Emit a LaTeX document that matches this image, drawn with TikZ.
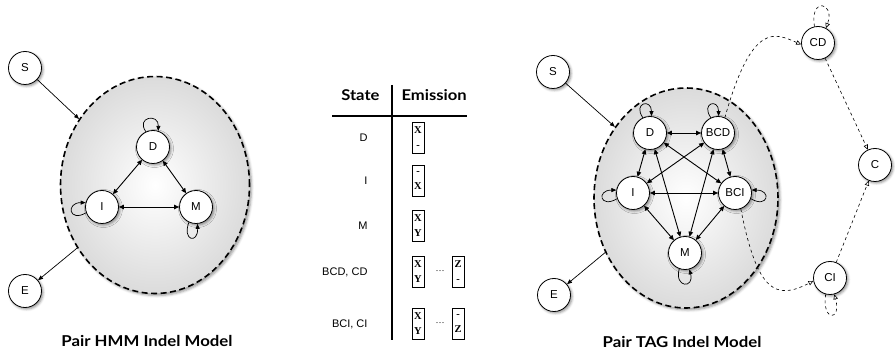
\documentclass[tikz,border=0pt]{standalone}
\usepackage{fontspec}
\setmainfont{Liberation Sans}
\newfontfamily\capfont[FakeStretch=1.12]{Lato}
\newfontfamily\boxfont{Liberation Serif}
\usetikzlibrary{arrows.meta,shapes.geometric,shadows.blur}

\tikzset{
  state/.style={circle, draw, line width=0.8pt, fill=white, minimum size=33pt,
    inner sep=0pt, font=\fontsize{11.5}{12}\selectfont,
    blur shadow={shadow xshift=1.5pt, shadow yshift=-1.5pt,
      shadow blur radius=2.5pt, shadow opacity=45}},
  region/.style={ellipse, draw, dash pattern=on 6pt off 3.5pt, line width=1.6pt,
    inner sep=0pt, inner color=white, outer color=gray!28,
    blur shadow={shadow xshift=2pt, shadow yshift=-2pt,
      shadow blur radius=2.5pt, shadow opacity=40}},
  trans/.style={line width=0.9pt,
    {Triangle[length=5pt,width=4.5pt]}-{Triangle[length=5pt,width=4.5pt]}},
  single/.style={line width=0.7pt, -{Triangle[length=5pt,width=4pt]}},
  selfloop/.style={line width=0.7pt, -{Triangle[length=5pt,width=4pt]}},
  copyedge/.style={dashed, line width=0.6pt,
    -{Triangle[open,length=5pt,width=4.5pt]}},
  emit/.style={draw, line width=0.6pt, minimum width=12pt, minimum height=31pt,
    inner sep=0pt, align=center,
    font=\boxfont\bfseries\fontsize{10.5}{15}\selectfont},
  rowlabel/.style={anchor=east, font=\fontsize{11}{12}\selectfont},
  header/.style={font=\capfont\bfseries\fontsize{14.8}{16}\selectfont},
  caption/.style={font=\capfont\bfseries\fontsize{15}{17}\selectfont},
  dots/.style={font=\fontsize{9}{10}\selectfont},
}

\begin{document}
\begin{tikzpicture}[x=1pt,y=1pt]
\useasboundingbox (0,0) rectangle (895,351);

% ---------------- Pair HMM ----------------
\node[region, minimum width=189pt, minimum height=217pt] (hCloud) at (155,166) {};
\node[state] (hS) at (25,283) {S};
\node[state] (hE) at (25,60) {E};
\node[state] (hD) at (153,204) {D};
\node[state] (hI) at (102,144) {I};
\node[state] (hM) at (196,144) {M};

\draw[single] (hS) -- (hCloud.139);
\draw[single] (hCloud.219) -- (hE);
\draw[trans] (hD) -- (hI);
\draw[trans] (hD) -- (hM);
\draw[trans] (hI) -- (hM);
\draw[selfloop] (hD.115) .. controls +(125:18) and +(88:18) .. (hD.72);
\draw[selfloop] (hI.200) .. controls +(210:20) and +(180:20) .. (hI.165);
\draw[selfloop] (hM.245) .. controls +(250:20) and +(272:20) .. (hM.275);

\node[caption] (hCap) at (147,10) {Pair HMM Indel Model};

% ---------------- Emission table ----------------
\coordinate (vTop) at (392,266);
\coordinate (vBot) at (392,11);
\coordinate (hL) at (332,235);
\coordinate (hR) at (467,235);
\draw[line width=1.3pt] (vTop) -- (vBot);
\draw[line width=1.3pt] (hL) -- (hR);
\node[header, anchor=base east] (thState) at (383,250) {State};
\node[header, anchor=base west] (thEmit) at (398,250) {Emission};

\node[rowlabel] (rD) at (371,213) {D};
\node[rowlabel] (rI) at (371,170) {I};
\node[rowlabel] (rM) at (371,125) {M};
\node[rowlabel] (rBCD) at (371,79) {BCD, CD};
\node[rowlabel] (rBCI) at (371,27) {BCI, CI};

\node[emit] (eD) at (418,213) {X\\-};
\node[emit] (eI) at (418,170) {-\\X};
\node[emit] (eM) at (418,125) {X\\Y};
\node[emit] (eBCDa) at (418,79) {X\\Y};
\node[dots] (eBCDd) at (440,79) {···};
\node[emit] (eBCDb) at (458,79) {Z\\-};
\node[emit] (eBCIa) at (418,27) {X\\Y};
\node[dots] (eBCId) at (440,27) {···};
\node[emit] (eBCIb) at (458,27) {-\\Z};

% ---------------- Pair TAG ----------------
\node[region, minimum width=184pt, minimum height=220pt] (tCloud) at (686,153) {};
\node[state] (tS) at (553,279) {S};
\node[state] (tE) at (554,56) {E};
\node[state] (tD) at (650,218) {D};
\node[state] (tBCD) at (718,218) {BCD};
\node[state] (tI) at (633,158) {I};
\node[state] (tBCI) at (735,158) {BCI};
\node[state] (tM) at (685,98) {M};
\node[state] (tCD) at (818,308) {CD};
\node[state] (tC) at (875,186) {C};
\node[state] (tCI) at (830,73) {CI};

\draw[single] (tS) -- (tCloud.135);
\draw[single] (tCloud.214) -- (tE);

\draw[trans] (tD) -- (tBCD);
\draw[trans] (tD) -- (tI);
\draw[trans] (tD) -- (tM);
\draw[trans] (tD) -- (tBCI);
\draw[trans] (tBCD) -- (tI);
\draw[trans] (tBCD) -- (tM);
\draw[trans] (tBCD) -- (tBCI);
\draw[trans] (tI) -- (tBCI);
\draw[trans] (tI) -- (tM);
\draw[trans] (tBCI) -- (tM);

\draw[selfloop] (tD.115) .. controls +(125:18) and +(90:18) .. (tD.85);
\draw[selfloop] (tBCD.115) .. controls +(125:18) and +(90:18) .. (tBCD.88);
\draw[selfloop] (tI.200) .. controls +(210:20) and +(180:20) .. (tI.170);
\draw[selfloop] (tBCI.340) .. controls +(330:20) and +(0:20) .. (tBCI.10);
\draw[selfloop] (tM.250) .. controls +(255:20) and +(285:20) .. (tM.285);

\draw[copyedge] (tBCD.66) .. controls (752,330) and (775,318) .. (tCD.185);
\draw[copyedge] (tCD) -- (tC);
\draw[copyedge] (tCI) -- (tC);
\draw[copyedge] (tBCI.290) .. controls (757,60) and (775,50) .. (tCI.190);
\draw[copyedge] (tCD.102) .. controls +(100:30) and +(70:28) .. (tCD.62);
\draw[copyedge] (tCI.255) .. controls +(262:28) and +(285:28) .. (tCI.285);

\node[caption] (tCap) at (682,9) {Pair TAG Indel Model};
\end{tikzpicture}
\end{document}
